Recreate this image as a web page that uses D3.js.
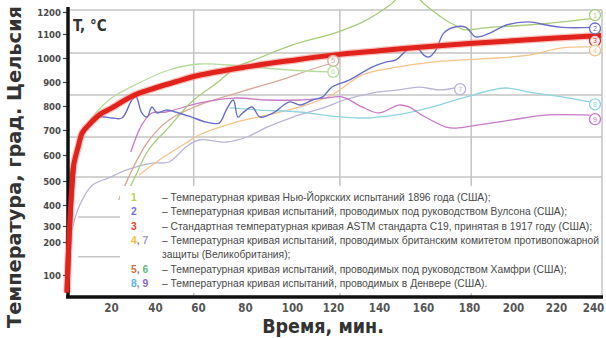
<!DOCTYPE html>
<html>
<head>
<meta charset="utf-8">
<script src="https://cdnjs.cloudflare.com/ajax/libs/d3/7.8.5/d3.min.js"></script>
<style>
    body { margin: 0; background: #fff; }
    svg { display: block; }
</style>
</head>
<body>
<div id="chart_container"></div>
<script>
// axis ticks
var timeTicks = [20, 40, 60, 80, 100, 120, 140, 160, 180, 200, 220, 240];
var tempTicks = [100, 200, 300, 400, 500, 600, 700, 800, 900, 1000, 1100, 1200];
// grid lines as they sit in the picture (not on the ticks)
var gridTimes = [58, 123, 181, 240];
var gridTemps = [155, 343, 515, 672, 846, 1021, 1209];

// curves: [time, min ; temperature, °C]
var curve1 = [[28,462],[31,517],[37,620],[46.5,712],[57,817],[68,896],[76.5,962],[86,1000],[100,1054],[122,1109],[133,1155],[145,1232],[153,1300],[161,1232],[169.5,1165],[175,1134],[177.5,1120],[189.5,1130],[207,1141],[223,1155],[237,1170]];
var curve2 = [[6,660],[10,716],[14.7,754],[20.5,750],[25,750],[29.5,825],[31.4,838],[34,771],[36.4,754],[38.6,796],[41,771],[45,783],[51,771],[57,754],[63.5,733],[69,729],[72,783],[75,825],[77,754],[79,771],[83,796],[86.4,754],[92,771],[99,817],[104,804],[110,825],[115,838],[119.5,879],[127,908],[137,962],[143,983],[147.7,992],[152.7,1033],[156.8,1046],[160.4,1012],[162.6,1004],[165.6,1033],[169,1104],[174.3,1133],[178.7,1130],[183,1088],[189.5,1104],[197,1141],[207.4,1155],[215.4,1141],[223,1130],[238,1130]];
var curve3 = [[0,20],[1,250],[2,450],[3,560],[5,630],[7,690],[10,722],[15,765],[20,790],[30,843],[40,875],[50,902],[60,927],[80,962],[100,990],[120,1012],[140,1030],[160,1046],[180,1060],[200,1072],[220,1083],[242,1094]];
var curve4 = [[32.7,523],[42,581],[54.4,648],[60.4,680],[74.8,729],[89.4,762],[103.8,796],[119.5,846],[132.6,929],[148.2,962],[164,983],[177,992],[192.7,1000],[207.4,1012],[223,1042],[238,1046]];
var curve5 = [[23.5,421],[30.7,562],[37.3,660],[46.5,742],[60.4,804],[77.8,858],[95,908],[108.6,950],[118,975]];
var curve6 = [[4.9,620],[9.3,721],[19,825],[32.7,896],[46.5,950],[60.4,975],[78,967],[99,950],[118,942]];
var curve7 = [[2.2,275],[5.8,400],[11.6,483],[19,512],[26.8,542],[38.6,569],[46.5,573],[54.4,632],[60.4,660],[72,652],[80.8,672],[89.4,712],[100.5,754],[116.6,796],[124.8,825],[137,854],[149,867],[158,879],[167,867],[174,875]];
var curve8 = [[73.5,792],[86.4,783],[103.8,775],[119.5,758],[132.6,750],[147.3,762],[162.6,792],[177,833],[196.4,875],[207.4,858],[223,838],[236.5,817]];
var curve9 = [[29,612],[34,721],[38.6,771],[45,775],[60.4,812],[75,833],[89.4,825],[103.8,825],[116,833],[123.9,838],[132.6,796],[140,771],[149,804],[153.6,796],[159.5,762],[170,712],[174.3,708],[184.5,721],[199.5,742],[215,762],[236.5,762]];

// numbered circles at the curve ends: [label, time, temperature]
var curveMarks = [["1",240,1186],["2",240,1125],["3",240,1072],["4",240,1032],["5",121,988],["6",121,942],["7",177,870],["8",240,807],["9",240,745]];

var legendKeys = ["1", "2", "3", "4, 7", "", "5, 6", "8, 9"];
var legendTexts = [
    "– Температурная кривая Нью-Йоркских испытаний 1896 года (США);",
    "– Температурная кривая испытаний, проводимых под руководством Вулсона (США);",
    "– Стандартная температурная кривая ASTM стандарта С19, принятая в 1917 году (США);",
    "– Температурная кривая испытаний, проводимых британским комитетом противопожарной",
    "защиты (Великобритания);",
    "– Температурная кривая испытаний, проводимых под руководством Хамфри (США);",
    "– Температурная кривая испытаний, проводимых в Денвере (США)."
];

function FireCurvesChart() {};

FireCurvesChart.prototype = {
    setup: function(args) {
        this.width = 606;
        this.height = 338;
        this.colors = {
            "1": "#a9cb7c", "2": "#6a6ec6", "3": "#e2231d", "4": "#f3c48c", "5": "#d6aa9c",
            "6": "#b6dc9c", "7": "#b9b5d6", "8": "#8ed5de", "9": "#c77ac7"
        };
        // legend digits are printed stronger than the lines
        this.keyColors = {
            "1": "#b9cf55", "2": "#6f74d8", "3": "#e8452e", "4": "#f2bf3a", "5": "#c8743c",
            "6": "#62b98a", "7": "#9d9dcc", "8": "#5cb4e0", "9": "#8a64c8"
        };
        this.svg = d3.select(args.divId).append("svg")
            .attr("width", this.width)
            .attr("height", this.height);

        this.createScales();
        this.drawGrid();
        this.drawCurves();
        this.drawLegend();
        this.drawAxes();
        this.drawMarks();
        this.drawTitles();
    },

    createScales: function() {
        // the printed axes are not even, so both scales are piecewise
        this.x = d3.scaleLinear()
            .domain([0].concat(timeTicks))
            .range([67, 111, 155, 198, 245, 292, 333, 379, 423, 469, 513, 556, 597]);
        this.y = d3.scaleLinear()
            .domain([0].concat(tempTicks))
            .range([297, 275, 242, 226, 205, 181, 155, 130, 106, 82, 58, 34, 12]);
    },

    drawGrid: function() {
        var self = this,
            g = this.svg.append("g").attr("class", "grid");

        g.selectAll("line.h").data(gridTemps).enter().append("line")
            .attr("x1", function(d) { return d < 400 ? self.x(5) : self.x(0); })
            .attr("x2", self.x(240) + 5)
            .attr("y1", function(d) { return self.y(d); })
            .attr("y2", function(d) { return self.y(d); })
            .attr("stroke", "#c4c4c4").attr("stroke-width", 1.5);

        g.selectAll("line.v").data(gridTimes).enter().append("line")
            .attr("x1", function(d, i) { return i === gridTimes.length - 1 ? self.x(d) + 5 : self.x(d); })
            .attr("x2", function(d, i) { return i === gridTimes.length - 1 ? self.x(d) + 5 : self.x(d); })
            .attr("y1", self.y(1209)).attr("y2", self.y(0))
            .attr("stroke", "#c4c4c4").attr("stroke-width", 1.5);
    },

    drawCurves: function() {
        var self = this;
        var series = [
            {id: "7", pts: curve7}, {id: "5", pts: curve5}, {id: "6", pts: curve6},
            {id: "4", pts: curve4}, {id: "8", pts: curve8}, {id: "9", pts: curve9},
            {id: "1", pts: curve1}, {id: "2", pts: curve2}
        ];

        this.svg.append("clipPath").attr("id", "plot-clip")
            .append("rect").attr("x", self.x(0)).attr("y", 0)
            .attr("width", self.x(240) + 6 - self.x(0)).attr("height", self.y(0));

        var line = d3.line()
            .x(function(d) { return self.x(d[0]); })
            .y(function(d) { return self.y(d[1]); })
            .curve(d3.curveCatmullRom.alpha(0.5));

        var g = this.svg.append("g").attr("clip-path", "url(#plot-clip)");
        g.selectAll("path.curve").data(series).enter().append("path")
            .attr("class", "curve")
            .attr("d", function(d) { return line(d.pts); })
            .attr("fill", "none")
            .attr("stroke", function(d) { return self.colors[d.id]; })
            .attr("stroke-width", function(d) { return d.id === "2" ? 1.4 : 1.3; });

        // ASTM curve is drawn later, over the axes
        this.redLine = line;
    },

    drawLegend: function() {
        var self = this;
        var g = this.svg.append("g").attr("class", "legend");

        g.append("rect")
            .attr("x", 120).attr("y", 186)
            .attr("width", 481).attr("height", 107)
            .attr("fill", "#fff");

        g.selectAll("text.desc").data(legendTexts).enter().append("text")
            .attr("class", "desc")
            .attr("x", 162)
            .attr("y", function(d, i) { return 201 + i * 14.3; })
            .attr("font-family", "'Liberation Sans', Arial, sans-serif")
            .attr("font-size", "10.3px")
            .attr("fill", "#4a4a4a")
            .text(function(d) { return d; });

        var keys = g.selectAll("text.key").data(legendKeys).enter().append("text")
            .attr("class", "key")
            .attr("x", 131)
            .attr("y", function(d, i) { return 201 + i * 14.3; })
            .attr("font-family", "'Liberation Sans', Arial, sans-serif")
            .attr("font-weight", "bold")
            .attr("font-size", "10.3px");

        keys.each(function(d) {
            var t = d3.select(this);
            d.split(", ").forEach(function(k, j) {
                if (j > 0) t.append("tspan").attr("fill", "#888").text(", ");
                t.append("tspan").attr("fill", self.keyColors[k]).text(k);
            });
        });
    },

    drawAxes: function() {
        var self = this;

        // red standard curve sits over the plot
        this.svg.append("path")
            .attr("d", this.redLine(curve3))
            .attr("fill", "none")
            .attr("stroke", "#f08a80")
            .attr("stroke-width", 7.5)
            .attr("stroke-opacity", 0.5);
        this.svg.append("path")
            .attr("d", this.redLine(curve3))
            .attr("fill", "none")
            .attr("stroke", this.colors["3"])
            .attr("stroke-width", 5);

        var yAxis = d3.axisLeft(this.y).tickValues(tempTicks).tickFormat(d3.format("d")).tickSize(4).tickPadding(2);
        var gy = this.svg.append("g")
            .attr("transform", "translate(" + self.x(0) + ",0)")
            .call(yAxis);
        gy.select(".domain").remove();
        gy.selectAll(".tick line").attr("stroke", "#444").attr("stroke-width", 1.2);
        gy.selectAll(".tick text")
            .attr("font-family", "'DejaVu Sans Condensed', 'DejaVu Sans', sans-serif")
            .attr("font-weight", "bold")
            .attr("font-size", "9.5px")
            .attr("fill", "#4a4a4a");

        var xAxis = d3.axisBottom(this.x).tickValues(timeTicks).tickSize(0).tickPadding(7);
        var gx = this.svg.append("g")
            .attr("transform", "translate(0," + self.y(0) + ")")
            .call(xAxis);
        gx.select(".domain").remove();
        gx.selectAll(".tick text")
            .attr("font-family", "'DejaVu Sans Condensed', 'DejaVu Sans', sans-serif")
            .attr("font-weight", "bold")
            .attr("font-size", "11.5px")
            .attr("fill", "#555")
            .attr("dx", function(d) { return d === 240 ? -4 : 0; });

        // heavy axis bars
        this.svg.append("line")
            .attr("x1", self.x(0) + 1).attr("x2", self.x(0) + 1)
            .attr("y1", 7).attr("y2", self.y(0) + 1)
            .attr("stroke", "#111").attr("stroke-width", 3.5);
        this.svg.append("line")
            .attr("x1", self.x(0) - 1).attr("x2", self.x(240) + 6)
            .attr("y1", self.y(0)).attr("y2", self.y(0))
            .attr("stroke", "#111").attr("stroke-width", 3.5);

        // red curve foot passes over the axis corner
        this.svg.append("path")
            .attr("d", this.redLine(curve3.slice(0, 4)))
            .attr("fill", "none")
            .attr("stroke", this.colors["3"])
            .attr("stroke-width", 5);
    },

    drawMarks: function() {
        var self = this;
        var g = this.svg.selectAll("g.mark").data(curveMarks).enter().append("g")
            .attr("class", "mark")
            .attr("transform", function(d) {
                return "translate(" + (self.x(d[1]) - 2) + "," + self.y(d[2]) + ")";
            });
        g.append("circle")
            .attr("r", 5.5)
            .attr("fill", "#fff")
            .attr("fill-opacity", 0.8)
            .attr("stroke", function(d) { return self.colors[d[0]]; })
            .attr("stroke-width", 1.3);
        g.append("text")
            .attr("text-anchor", "middle")
            .attr("dy", "0.35em")
            .attr("font-family", "'Liberation Sans', Arial, sans-serif")
            .attr("font-size", "7px")
            .attr("fill", function(d) { return self.colors[d[0]]; })
            .text(function(d) { return d[0]; });
    },

    drawTitles: function() {
        this.svg.append("text")
            .attr("x", 73).attr("y", 31)
            .attr("font-family", "'DejaVu Sans Condensed', 'DejaVu Sans', sans-serif")
            .attr("font-weight", "bold")
            .attr("font-size", "15px")
            .attr("fill", "#333")
            .text("T, °C");

        this.svg.append("text")
            .attr("transform", "translate(21,167) rotate(-90)")
            .attr("text-anchor", "middle")
            .attr("font-family", "'DejaVu Sans Condensed', 'DejaVu Sans', sans-serif")
            .attr("font-weight", "bold")
            .attr("font-size", "20px")
            .attr("textLength", 322)
            .attr("lengthAdjust", "spacingAndGlyphs")
            .attr("fill", "#333")
            .text("Температура, град. Цельсия");

        this.svg.append("text")
            .attr("x", 323).attr("y", 333)
            .attr("text-anchor", "middle")
            .attr("font-family", "'DejaVu Sans Condensed', 'DejaVu Sans', sans-serif")
            .attr("font-weight", "bold")
            .attr("font-size", "19.5px")
            .attr("fill", "#333")
            .text("Время, мин.");
    }
};

var chart = new FireCurvesChart();
chart.setup({divId: "#chart_container"});
</script>
</body>
</html>
